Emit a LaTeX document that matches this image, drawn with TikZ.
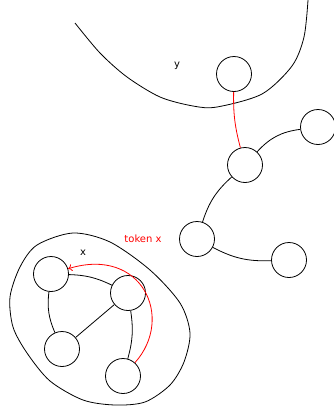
\documentclass[tikz,border=0pt]{standalone}
\usepackage{fontspec}
\setmainfont{DejaVu Sans}
\usetikzlibrary{arrows.meta}
\begin{document}
\begin{tikzpicture}[x=1pt,y=1pt,line width=0.8pt,
  vertex/.style={circle,draw,minimum size=35pt,inner sep=0pt},
  lbl/.style={font=\fontsize{10}{12}\selectfont}]
\useasboundingbox (0,0) rectangle (333,-407);
% region y
\draw plot[smooth] coordinates {(75,-23) (100,-53) (127,-77) (160,-97) (193,-106) (217,-107) (262,-94) (292,-66) (304,-37) (308,0)};
\node[lbl] (ly) at (177,-66) {y};
\node[vertex] (t) at (234,-74) {};
% chain
\node[vertex] (m) at (245,-165) {};
\node[vertex] (r) at (318,-127) {};
\node[vertex] (p) at (197,-239) {};
\node[vertex] (q) at (289,-260) {};
\draw[red] (t) to[bend right=8] (m);
\draw (m) to[bend left=20] (r);
\draw (m) to[bend right=15] (p);
\draw (p) to[bend right=15] (q);
% region x
\draw plot[smooth cycle] coordinates {(10,-297) (20,-267) (37,-245) (73,-233) (110,-242) (150,-270) (180,-303) (190,-333) (184,-362) (170,-385) (145,-402) (115,-405) (83,-400) (50,-381) (27,-353) (13,-327)};
\node[vertex] (a) at (51,-274) {};
\node[vertex] (b) at (128,-293) {};
\node[vertex] (c) at (62,-349) {};
\node[vertex] (d) at (123,-376) {};
\draw (a) to[bend left=12] (b);
\draw (a) to[bend right=15] (c);
\draw (c) -- (b);
\draw (b) to[bend left=12] (d);
\draw[red,-{To[length=4pt,width=7pt]}] (d) .. controls (175,-318) and (142,-246) .. (a);
\node[lbl] (lx) at (83,-253) {x};
\node[lbl,red] (tok) at (143,-239) {token x};
\end{tikzpicture}
\end{document}
